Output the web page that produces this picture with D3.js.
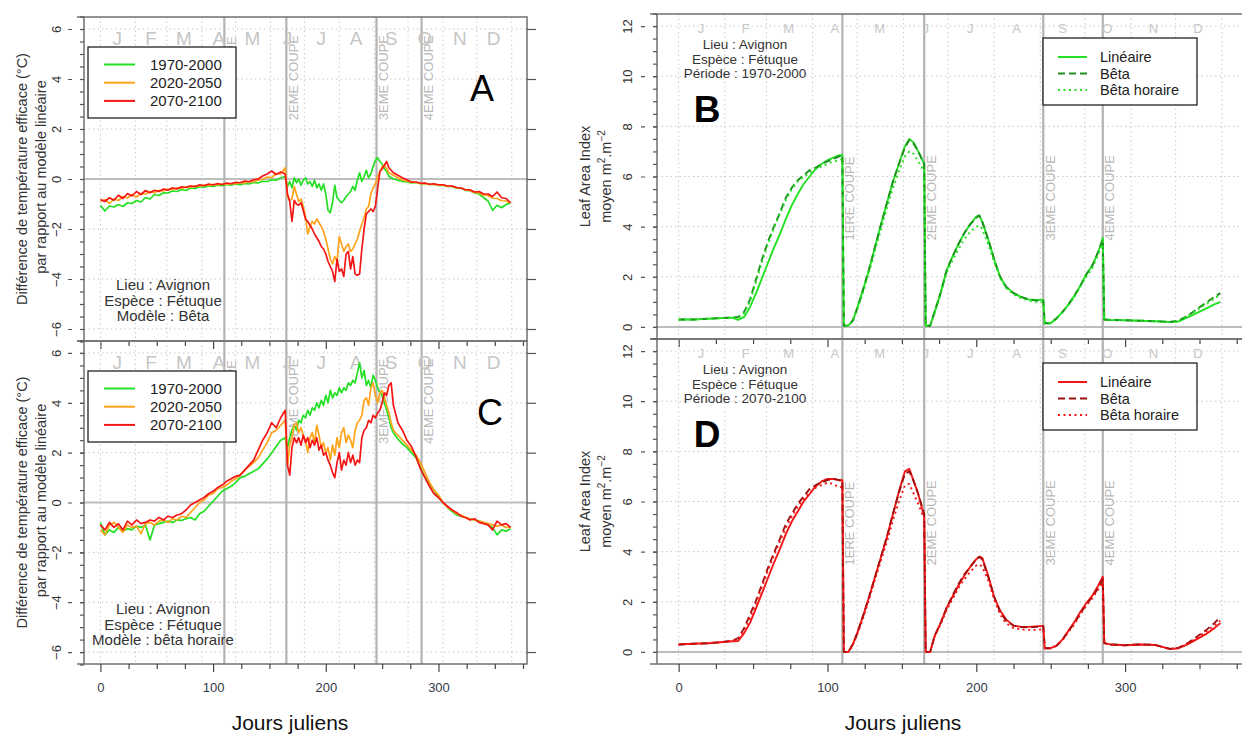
<!DOCTYPE html>
<html><head><meta charset="utf-8">
<script src="https://cdn.jsdelivr.net/npm/d3@7"></script>
<style>body{margin:0;background:#fff}svg{display:block;font-family:"Liberation Sans",Arial,sans-serif}</style>
</head><body><svg id="c" width="1242" height="735"></svg>
<script>
// ---------- DATA ----------
const monthLetters = ["J","F","M","A","M","J","J","A","S","O","N","D"];
const monthMid = [15,45,74,105,135,166,196,227,258,288,319,349];
const monthBounds = [0,31,59,90,120,151,181,212,243,273,304,334,365];
const cutDays = [110,165,245,285];
const cutLabels = ["1ERE COUPE","2EME COUPE","3EME COUPE","4EME COUPE"];
const periods = ["1970-2000","2020-2050","2070-2100"];
const lineTypes = ["Linéaire","Bêta","Bêta horaire"];
const tempTicks = [-6,-4,-2,0,2,4,6];
const laiTicks = [0,2,4,6,8,10,12];
const dayTicks = [0,25,50,75,100,125,150,175,200,225,250,275,300,325,350,375];

const daysAC = [0,4,8,12,16,20,24,28,32,36,40,44,48,52,56,60,64,68,72,76,80,84,88,92,96,100,104,108,112,116,120,124,128,132,136,140,144,148,152,156,160,164,
 166,168,170,172,174,176,178,180,182,184,186,188,190,192,194,196,198,200,202,204,206,208,210,212,214,216,218,220,222,224,226,228,230,232,234,236,238,240,242,244,246,248,250,252,254,256,258,260,
 264,268,272,276,280,284,288,292,296,300,304,308,312,316,320,324,328,332,336,340,344,348,352,356,360,364];

// Panel A : Modèle Bêta
const tempA_1970 = [-1.05,-1.28,-1.08,-1.12,-1.02,-1.1,-0.95,-0.98,-0.86,-0.92, -0.74,-0.8,-0.62,-0.66,-0.55,-0.56,-0.48,-0.5,-0.42,-0.46, -0.36,-0.38,-0.31,-0.33,-0.28,-0.3,-0.25,-0.27,-0.22,-0.25, -0.2,-0.23,-0.18,-0.2,-0.14,-0.16,-0.09,-0.1,-0.03,-0.05, 0.05,0.1,
 -0.3,-0.1,-0.35,0.05,-0.15,0.0,-0.25,-0.05,0.05,-0.2, -0.1,-0.3,-0.05,-0.35,-0.2,-0.45,-0.2,-0.6,-1.25,-1.35, -0.95,-0.25,-0.75,-0.85,-0.95,-0.85,-0.7,-0.6,-0.5,-0.3, -0.45,-0.05,0.25,-0.1,0.1,0.35,0.05,0.2,0.5,0.75, 0.85,0.7,0.6,0.4,0.3,0.1,0.05,0.0,
 -0.05,-0.1,-0.12,-0.16,-0.14,-0.19,-0.18,-0.22,-0.21,-0.26, -0.25,-0.3,-0.3,-0.37,-0.36,-0.46,-0.47,-0.56,-0.6,-0.74, -0.88,-1.25,-1.05,-1.15,-1.02,-0.95];
const tempA_2020 = [-0.9,-0.82,-0.98,-0.8,-0.86,-0.7,-0.76,-0.62,-0.72,-0.58, -0.6,-0.5,-0.55,-0.45,-0.48,-0.4,-0.43,-0.35,-0.38,-0.31, -0.33,-0.27,-0.29,-0.24,-0.26,-0.21,-0.24,-0.2,-0.22,-0.18, -0.19,-0.14,-0.16,-0.1,-0.12,-0.04,-0.02,0.08,0.06,0.22, 0.2,0.45,
 -0.7,-0.85,-0.8,-0.3,-0.6,-0.9,-0.8,-1.1,-1.5,-2.2, -1.9,-1.7,-1.8,-1.6,-1.75,-1.9,-2.1,-2.4,-2.8,-3.2, -3.4,-3.1,-3.3,-2.3,-2.6,-2.9,-2.7,-2.6,-2.9,-2.8, -2.6,-2.4,-2.1,-1.8,-1.55,-1.2,-1.1,-0.6,-0.35,-0.2, 0.1,0.3,0.5,0.55,0.4,0.25,0.2,0.15,
 0.05,-0.05,-0.08,-0.14,-0.13,-0.19,-0.18,-0.22,-0.21,-0.25, -0.24,-0.29,-0.29,-0.35,-0.36,-0.44,-0.46,-0.54,-0.56,-0.64, -0.66,-0.77,-0.78,-0.87,-0.88,-0.95];
const tempA_2070 = [-0.82,-0.9,-0.75,-0.85,-0.65,-0.78,-0.58,-0.68,-0.5,-0.62, -0.46,-0.55,-0.45,-0.5,-0.4,-0.45,-0.35,-0.4,-0.31,-0.34, -0.27,-0.31,-0.23,-0.27,-0.2,-0.24,-0.18,-0.22,-0.16,-0.19, -0.13,-0.15,-0.08,-0.11,-0.03,0.0,0.12,0.2,0.32,0.18, 0.28,0.2,
 -0.6,-0.9,-1.7,-0.85,-1.0,-1.05,-0.95,-1.25,-1.6,-1.7, -1.85,-2.0,-2.2,-2.35,-2.5,-2.7,-2.8,-3.0,-3.3,-3.5, -3.7,-4.1,-3.2,-3.7,-3.6,-3.9,-3.0,-2.9,-3.6,-3.1, -3.8,-3.85,-3.8,-2.8,-2.0,-1.4,-1.3,-1.2,-1.3,-1.1, -0.4,0.3,0.4,0.55,0.7,0.45,0.35,0.25,
 0.15,0.05,-0.03,-0.12,-0.12,-0.17,-0.16,-0.21,-0.19,-0.23, -0.23,-0.28,-0.28,-0.34,-0.36,-0.43,-0.43,-0.52,-0.5,-0.6, -0.6,-0.7,-0.52,-0.75,-0.78,-0.95];

// Panel C : Modèle bêta horaire
const tempC_1970 = [-0.8,-1.3,-1.1,-1.2,-1.0,-1.15,-1.05,-1.1,-0.95,-1.0, -0.9,-1.5,-0.9,-0.85,-0.8,-0.75,-0.8,-0.7,-0.72,-0.65, -0.6,-0.7,-0.45,-0.35,-0.15,0.05,0.25,0.45,0.55,0.65, 0.8,1.0,1.05,1.15,1.25,1.35,1.55,1.75,2.0,2.25, 2.5,2.6,
 2.2,2.6,2.9,3.1,2.9,3.3,3.2,3.5,3.4,3.7, 3.5,3.8,3.7,4.0,3.8,4.1,3.9,4.3,4.0,4.5, 4.2,4.4,4.3,4.6,4.4,4.6,4.5,4.8,4.7,4.9, 4.8,5.2,5.6,5.0,5.3,4.7,4.9,4.6,5.1,4.9, 4.6,4.4,4.3,4.0,3.7,3.4,3.0,2.8,
 2.55,2.35,2.2,2.0,1.8,1.4,1.0,0.75,0.5,0.2, 0.0,-0.2,-0.35,-0.5,-0.55,-0.6,-0.65,-0.7,-0.75,-0.8, -0.9,-1.0,-1.3,-1.1,-1.15,-1.05];
const tempC_2020 = [-1.1,-1.3,-0.9,-0.8,-1.0,-1.2,-0.9,-1.0,-0.95,-1.25, -0.85,-0.8,-0.9,-0.75,-0.7,-0.8,-0.65,-0.7,-0.55,-0.6, -0.4,-0.2,0.0,0.1,0.3,0.35,0.55,0.6,0.7,0.85, 0.95,1.1,1.3,1.45,1.6,1.8,2.1,2.4,2.8,2.9, 3.1,3.3,
 1.5,2.3,2.6,3.1,3.2,2.8,3.0,2.7,2.5,2.0, 2.6,2.8,2.4,3.1,2.7,2.2,2.4,2.0,2.2,1.7, 2.3,1.9,2.6,2.2,2.8,3.0,2.4,2.7,2.5,2.2, 2.9,3.2,3.3,3.5,4.1,4.2,3.9,4.6,4.8,4.3, 4.0,4.4,4.5,4.2,3.9,3.6,3.2,2.9,
 2.7,2.5,2.3,2.1,1.9,1.6,1.2,0.8,0.5,0.3, 0.0,-0.2,-0.3,-0.45,-0.5,-0.6,-0.65,-0.7,-0.75,-0.8, -0.85,-0.9,-0.95,-0.9,-1.0,-1.0];
const tempC_2070 = [-0.9,-1.1,-0.8,-1.0,-0.85,-1.1,-0.75,-0.9,-0.7,-0.85, -0.8,-0.7,-0.75,-0.6,-0.7,-0.55,-0.6,-0.5,-0.45,-0.3, -0.1,0.0,0.1,0.2,0.35,0.45,0.6,0.7,0.85,0.95, 1.05,1.1,1.3,1.5,1.7,2.1,2.5,2.8,3.2,3.0, 3.4,3.7,
 1.5,1.1,2.2,2.6,2.4,2.6,2.3,2.7,2.4,2.6, 2.2,2.5,2.3,2.6,2.1,2.3,1.9,2.0,1.7,1.5, 1.2,1.0,1.6,2.0,1.3,1.7,1.5,2.0,1.6,1.9, 1.5,1.7,1.6,2.6,2.9,3.0,3.3,3.2,3.5,3.4, 3.6,3.7,4.0,4.4,4.3,4.7,4.8,3.9,
 3.2,2.9,2.5,2.25,1.85,1.35,1.0,0.65,0.35,0.2, 0.0,-0.15,-0.3,-0.4,-0.55,-0.6,-0.7,-0.65,-0.8,-0.85, -0.9,-1.1,-0.75,-0.9,-0.85,-1.0];

const daysLAI = [0,10,20,30,36,40,44,48,52,56,60,64,68,72,76,80,84,88,92,96,100,104,108,110,111,114,117,120,124,128,132,136,140,144,148,152,155,158,161,165,166,169,172,176,180,184,188,192,196,200,202,204,208,212,216,220,225,230,235,240,245,246,250,254,258,262,266,270,274,278,282,285,286,290,300,310,320,330,336,342,348,354,360,364];

// Panel B : Période 1970-2000
const laiB_lin = [0.3,0.3,0.33,0.36,0.37,0.28,0.4,0.8,1.35,1.95,2.55,3.15,3.7,4.3,4.85,5.3,5.7,6.0,6.3,6.5,6.65,6.75,6.85,6.85,0.05,0.05,0.25,0.75,1.5,2.3,3.2,4.1,4.95,5.8,6.5,7.2,7.5,7.35,7.0,6.5,0.05,0.05,0.6,1.35,2.25,2.8,3.3,3.75,4.1,4.4,4.45,4.2,3.5,2.7,2.0,1.6,1.35,1.2,1.1,1.08,1.08,0.15,0.15,0.35,0.6,0.9,1.25,1.65,2.1,2.45,3.0,3.55,0.3,0.28,0.27,0.25,0.23,0.2,0.22,0.38,0.55,0.72,0.9,1.0];
const laiB_beta = [0.3,0.3,0.33,0.36,0.38,0.4,0.6,1.1,1.9,2.7,3.4,4.0,4.55,5.15,5.55,5.85,6.05,6.25,6.35,6.5,6.6,6.7,6.8,6.85,0.05,0.05,0.25,0.75,1.5,2.3,3.2,4.1,4.95,5.8,6.5,7.15,7.45,7.3,7.0,6.5,0.05,0.05,0.6,1.35,2.25,2.8,3.3,3.75,4.1,4.35,4.45,4.2,3.5,2.7,2.0,1.6,1.35,1.2,1.1,1.05,1.05,0.15,0.15,0.35,0.6,0.9,1.25,1.65,2.1,2.45,3.0,3.5,0.3,0.28,0.27,0.25,0.23,0.2,0.25,0.45,0.7,0.95,1.2,1.35];
const laiB_hor = [0.3,0.3,0.33,0.36,0.37,0.35,0.55,1.05,1.8,2.6,3.3,3.95,4.5,5.05,5.5,5.8,6.0,6.15,6.3,6.4,6.5,6.6,6.65,6.7,0.05,0.05,0.25,0.7,1.4,2.2,3.05,3.9,4.75,5.55,6.2,6.8,7.0,6.9,6.6,6.2,0.05,0.05,0.55,1.3,2.15,2.65,3.1,3.5,3.8,4.0,4.05,3.9,3.3,2.6,1.95,1.55,1.3,1.15,1.05,1.0,1.0,0.15,0.15,0.33,0.58,0.88,1.2,1.6,2.0,2.35,2.9,3.4,0.3,0.28,0.27,0.25,0.23,0.2,0.24,0.43,0.67,0.9,1.12,1.3];

// Panel D : Période 2070-2100
const laiD_lin = [0.3,0.33,0.35,0.4,0.43,0.44,0.75,1.17,1.75,2.35,2.95,3.55,4.1,4.7,5.2,5.6,6.0,6.3,6.6,6.8,6.9,6.9,6.85,6.85,0.0,0.0,0.3,0.75,1.45,2.2,3.0,3.8,4.6,5.5,6.4,7.2,7.3,6.8,6.3,5.4,0.0,0.0,0.64,1.15,1.75,2.2,2.65,3.05,3.4,3.7,3.8,3.75,3.05,2.2,1.65,1.3,1.05,1.0,1.0,1.02,1.04,0.15,0.15,0.25,0.5,0.85,1.2,1.6,1.95,2.25,2.65,3.0,0.35,0.3,0.27,0.3,0.28,0.12,0.15,0.3,0.5,0.7,0.95,1.15];
const laiD_beta = [0.3,0.33,0.35,0.4,0.45,0.55,0.95,1.5,2.05,2.7,3.35,3.95,4.5,5.1,5.5,5.9,6.2,6.5,6.65,6.75,6.85,6.9,6.85,6.85,0.0,0.0,0.3,0.75,1.45,2.2,3.0,3.8,4.6,5.5,6.35,7.1,7.2,6.8,6.3,5.5,0.0,0.0,0.64,1.15,1.75,2.25,2.7,3.1,3.4,3.7,3.8,3.7,3.0,2.2,1.6,1.25,1.05,1.0,0.98,1.0,1.02,0.15,0.15,0.25,0.5,0.85,1.15,1.55,1.9,2.2,2.55,2.9,0.35,0.3,0.27,0.3,0.28,0.12,0.17,0.35,0.6,0.85,1.15,1.4];
const laiD_hor = [0.3,0.33,0.35,0.4,0.45,0.5,0.85,1.35,1.95,2.6,3.25,3.85,4.4,4.95,5.4,5.8,6.1,6.35,6.55,6.65,6.75,6.7,6.55,6.6,0.0,0.0,0.28,0.7,1.35,2.1,2.9,3.65,4.4,5.25,6.0,6.65,6.7,6.3,5.9,5.3,0.0,0.0,0.6,1.1,1.65,2.1,2.55,2.9,3.2,3.45,3.5,3.4,2.85,2.1,1.5,1.15,0.95,0.9,0.88,0.88,0.9,0.15,0.15,0.25,0.48,0.8,1.1,1.5,1.85,2.15,2.5,2.75,0.35,0.3,0.27,0.3,0.28,0.12,0.16,0.33,0.55,0.8,1.05,1.25];

// ---------- DRAW ----------
const svg = d3.select("#c");
const xDom = [-14.56, 378.56];
const GRID = "#c9c9c9", FRAME = "#707070";

const panels = [
  {id:"A", xr:[84,527], yr:[17,341], yd:[-6.48,6.48], kind:"temp", bottom:false,
   series:[[tempA_1970,"#22e022",null],[tempA_2020,"#ffa31a",null],[tempA_2070,"#f51515",null]],
   info:["Lieu : Avignon","Espèce : Fétuque","Modèle : Bêta"]},
  {id:"C", xr:[84,527], yr:[341,664], yd:[-6.48,6.48], kind:"temp", bottom:true,
   series:[[tempC_1970,"#22e022",null],[tempC_2020,"#ffa31a",null],[tempC_2070,"#f51515",null]],
   info:["Lieu : Avignon","Espèce : Fétuque","Modèle : bêta horaire"]},
  {id:"B", xr:[657,1242], yr:[14,339], yd:[-0.48,12.48], kind:"lai", bottom:false,
   series:[[laiB_lin,"#22e022",null],[laiB_beta,"#1e8f1e","7,4"],[laiB_hor,"#22e022","2,3.5"]],
   info:["Lieu : Avignon","Espèce : Fétuque","Période : 1970-2000"]},
  {id:"D", xr:[657,1242], yr:[339,664], yd:[-0.48,12.48], kind:"lai", bottom:true,
   series:[[laiD_lin,"#f51515",null],[laiD_beta,"#9e1010","7,4"],[laiD_hor,"#f51515","2,3.5"]],
   info:["Lieu : Avignon","Espèce : Fétuque","Période : 2070-2100"]}
];

panels.forEach(p => {
  const x = d3.scaleLinear().domain(xDom).range(p.xr);
  const y = d3.scaleLinear().domain(p.yd).range([p.yr[1], p.yr[0]]);
  const x0 = p.xr[0], x1 = p.xr[1], y0 = p.yr[0], y1 = p.yr[1];
  const temp = p.kind === "temp";
  const g = svg.append("g");
  const clipId = "clip" + p.id;
  g.append("clipPath").attr("id", clipId).append("rect")
    .attr("x", x0).attr("y", y0).attr("width", x1 - x0).attr("height", y1 - y0);
  const pg = g.append("g").attr("clip-path", `url(#${clipId})`);

  // grid
  pg.selectAll(".vg").data(monthBounds).join("line")
    .attr("x1", d => x(d)).attr("x2", d => x(d)).attr("y1", y0).attr("y2", y1)
    .attr("stroke", GRID).attr("stroke-width", 1).attr("stroke-dasharray", "1.5,3");
  const yTicks = temp ? tempTicks : laiTicks;
  pg.selectAll(".hg").data(yTicks.filter(t => t !== 0)).join("line")
    .attr("x1", x0).attr("x2", x1).attr("y1", d => y(d)).attr("y2", d => y(d))
    .attr("stroke", GRID).attr("stroke-width", 1).attr("stroke-dasharray", "1.5,3");
  // zero line
  pg.append("line").attr("x1", x0).attr("x2", x1).attr("y1", y(0)).attr("y2", y(0))
    .attr("stroke", "#bdbdbd").attr("stroke-width", 2);
  // cut lines
  pg.selectAll(".cut").data(cutDays).join("line")
    .attr("x1", d => x(d)).attr("x2", d => x(d)).attr("y1", y0).attr("y2", y1)
    .attr("stroke", "#b3b3b3").attr("stroke-width", 2.2);
  // cut labels
  const labY = temp ? y(2.35) : y(3.45);
  pg.selectAll(".cutl").data(cutDays).join("text")
    .attr("transform", d => `translate(${x(d) + 11.5},${labY}) rotate(-90)`)
    .attr("font-size", 13).attr("fill", "#b8b8b8").text((d, i) => cutLabels[i]);
  // month letters
  pg.selectAll(".mon").data(monthMid).join("text")
    .attr("x", d => x(d)).attr("y", y0 + (temp ? 21 : 14))
    .attr("text-anchor", "middle").attr("dominant-baseline", "central")
    .attr("font-size", temp ? 19 : 13).attr("fill", "#c6c6c6").text((d, i) => monthLetters[i]);

  // data lines
  const days = temp ? daysAC : daysLAI;
  const line = d3.line().x(d => x(d[0])).y(d => y(d[1]));
  p.series.forEach(([vals, col, dash]) => {
    pg.append("path").datum(d3.zip(days, vals)).attr("d", line)
      .attr("fill", "none").attr("stroke", col).attr("stroke-width", temp ? 1.7 : 1.9)
      .attr("stroke-linejoin", "round").attr("stroke-dasharray", dash);
  });

  // frame
  g.append("rect").attr("x", x0).attr("y", y0).attr("width", (temp ? x1 : x1 + 2) - x0).attr("height", y1 - y0)
    .attr("fill", "none").attr("stroke", FRAME).attr("stroke-width", 1.5);
  [y0, y1].forEach(yy => g.append("line").attr("x1", x0 - 7).attr("x2", x0).attr("y1", yy).attr("y2", yy)
    .attr("stroke", FRAME).attr("stroke-width", 1.5));

  // y axis: major ticks (dotted style) + rotated labels
  const ya = g.append("g").attr("transform", `translate(${x0},0)`)
    .call(d3.axisLeft(y).tickValues(yTicks).tickSize(16).tickFormat(d3.format("d")));
  ya.select(".domain").remove();
  ya.selectAll(".tick line").attr("stroke", "#555").attr("stroke-width", 1.2).attr("stroke-dasharray", "4,8");
  const lo = temp ? 28 : 30;
  ya.selectAll(".tick text").attr("x", null).attr("dy", null)
    .attr("transform", `translate(${-lo},0) rotate(-90)`)
    .attr("text-anchor", "middle").attr("dominant-baseline", "central")
    .attr("font-size", 13).attr("fill", "#333").attr("font-family", null);
  // y minor ticks
  const minor = d3.range(p.yd[0] < -1 ? -6.5 : 0, (temp ? 6.5 : 12.5) + 0.01, 0.5);
  const ym = g.append("g").attr("transform", `translate(${x0},0)`)
    .call(d3.axisLeft(y).tickValues(minor).tickSize(4).tickFormat(""));
  ym.select(".domain").remove();
  ym.selectAll(".tick line").attr("stroke", "#555").attr("stroke-width", 1.2);
  // right ticks
  if (temp) {
    const yr = g.append("g").attr("transform", `translate(${x1},0)`)
      .call(d3.axisRight(y).tickValues(yTicks).tickSize(9).tickFormat(""));
    yr.select(".domain").remove();
    yr.selectAll(".tick line").attr("stroke", "#555").attr("stroke-width", 1.2);
  }
  // x axis
  const xa = g.append("g").attr("transform", `translate(0,${y1})`)
    .call(d3.axisBottom(x).tickValues(dayTicks).tickSize(5).tickPadding(14)
      .tickFormat(d => (p.bottom && d % 100 === 0 && d <= 300) ? d : ""));
  xa.select(".domain").remove();
  xa.selectAll(".tick line").attr("stroke", "#444").attr("stroke-width", 1.2)
    .attr("y2", d => d % 100 === 0 ? 8 : 5);
  xa.selectAll(".tick text").attr("font-size", 13).attr("fill", "#333a48").attr("font-family", null);

  // info text
  const info = g.append("text").attr("font-size", temp ? 15 : 13.5).attr("fill", "#333").attr("text-anchor", "middle");
  p.info.forEach((t, i) => {
    info.append("tspan").attr("x", temp ? 163 : 745)
      .attr("y", y0 + (temp ? 273 + i * 15.5 : 35 + i * 14.5)).text(t);
  });

  // panel letter
  g.append("text").attr("x", temp ? (p.id === "A" ? 482 : 490) : 707)
    .attr("y", temp ? y0 + 84 : y0 + 108)
    .attr("text-anchor", "middle").attr("font-size", temp ? 36 : 37)
    .attr("font-weight", temp ? "normal" : "bold").attr("fill", "#000").text(p.id);

  // legend
  if (temp) {
    const lx = 88, ly = y0 + 30;
    const lg = g.append("g");
    lg.append("rect").attr("x", lx).attr("y", ly).attr("width", 148).attr("height", 71)
      .attr("fill", "#fff").attr("stroke", "#222").attr("stroke-width", 1.3);
    p.series.forEach(([v, col], i) => {
      const yy = ly + 17.5 + i * 18.2;
      lg.append("line").attr("x1", lx + 16).attr("x2", lx + 47).attr("y1", yy).attr("y2", yy)
        .attr("stroke", col).attr("stroke-width", 2);
      lg.append("text").attr("x", lx + 62).attr("y", yy).attr("dominant-baseline", "central")
        .attr("font-size", 15).attr("fill", "#222").text(periods[i]);
    });
  } else {
    const lx = 1043, ly = y0 + 24;
    const lg = g.append("g");
    lg.append("rect").attr("x", lx).attr("y", ly).attr("width", 154).attr("height", 67)
      .attr("fill", "#fff").attr("stroke", "#222").attr("stroke-width", 1.3);
    p.series.forEach(([v, col, dash], i) => {
      const yy = ly + 19 + i * 16.5;
      lg.append("line").attr("x1", lx + 15).attr("x2", lx + 44).attr("y1", yy).attr("y2", yy)
        .attr("stroke", col).attr("stroke-width", 2).attr("stroke-dasharray", dash);
      lg.append("text").attr("x", lx + 57).attr("y", yy).attr("dominant-baseline", "central")
        .attr("font-size", 14.5).attr("fill", "#222").text(lineTypes[i]);
    });
  }

  // y title
  const cy = (y0 + y1) / 2;
  if (temp) {
    g.append("text").attr("transform", `translate(22,${cy}) rotate(-90)`).attr("text-anchor", "middle")
      .attr("dominant-baseline", "central").attr("font-size", 14.5).attr("fill", "#333")
      .text("Différence de température efficace (°C)");
    g.append("text").attr("transform", `translate(41,${cy - 2}) rotate(-90)`).attr("text-anchor", "middle")
      .attr("dominant-baseline", "central").attr("font-size", 14.5).attr("fill", "#333")
      .text("par rapport au modèle linéaire");
  } else {
    g.append("text").attr("transform", `translate(585,${cy}) rotate(-90)`).attr("text-anchor", "middle")
      .attr("dominant-baseline", "central").attr("font-size", 14.5).attr("fill", "#333")
      .text("Leaf Area Index");
    const t2 = g.append("text").attr("transform", `translate(606,${cy}) rotate(-90)`).attr("text-anchor", "middle")
      .attr("dominant-baseline", "central").attr("font-size", 14.5).attr("fill", "#333");
    t2.append("tspan").text("moyen m");
    t2.append("tspan").attr("dy", -5).attr("font-size", 10).text("2");
    t2.append("tspan").attr("dy", 5).text(".m");
    t2.append("tspan").attr("dy", -5).attr("font-size", 10).text("−2");
  }
  if (p.bottom) {
    g.append("text").attr("x", temp ? 290 : 903).attr("y", 730).attr("text-anchor", "middle")
      .attr("font-size", 21).attr("fill", "#111").text("Jours juliens");
  }
});
</script></body></html>
